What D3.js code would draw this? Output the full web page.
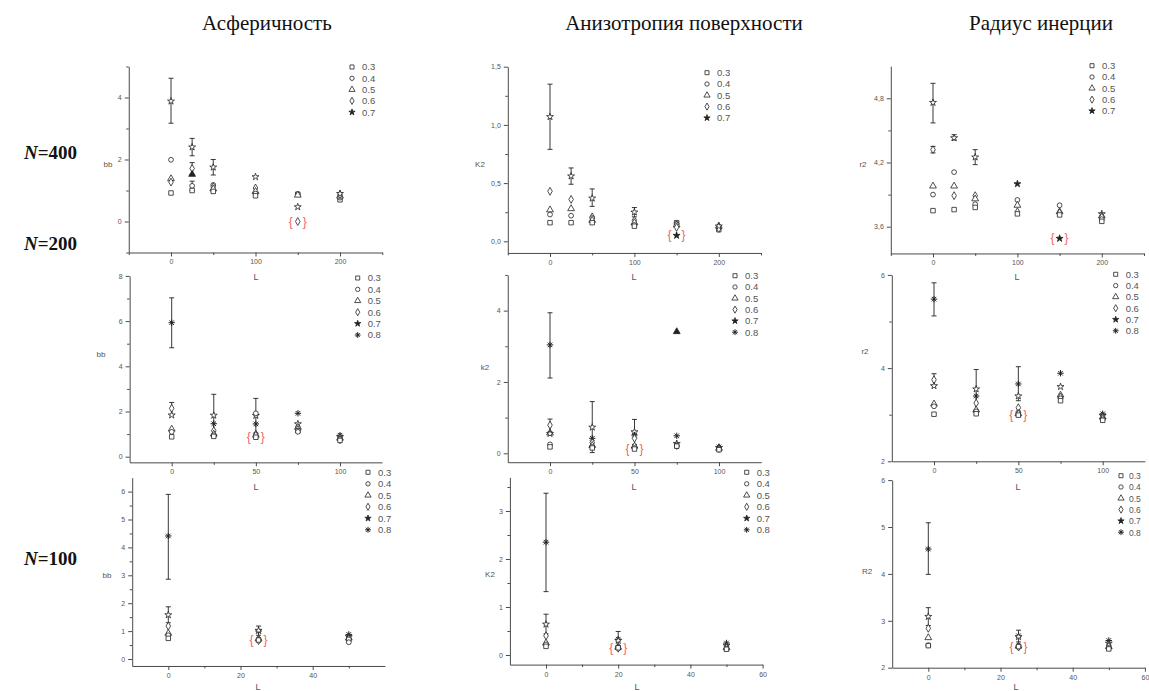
<!DOCTYPE html>
<html><head><meta charset="utf-8">
<script src="https://cdn.jsdelivr.net/npm/d3@7"></script>
<style>body{margin:0;background:#fff} svg{display:block}</style>
</head><body><svg id="c" width="1149" height="691"></svg>
<script>
// ---------------- DATA ----------------
const seriesNames = ["0.3","0.4","0.5","0.6","0.7","0.8"];
const colTitles = ["Асферичность","Анизотропия поверхности","Радиус инерции"];
const rowNs = ["400","200","100"];
const yLabels = ["bb","K2","r2","bb","k2","r2","bb","K2","R2"];
// points: [L, seriesIndex, value, errLow, errHigh, filled]
const bb400 = [
 [0,4,3.88,3.17,4.62],[0,1,1.99],[0,2,1.38],[0,3,1.27],[0,0,0.92],
 [25,4,2.4,2.12,2.68],[25,3,1.71,1.52,1.9],[25,2,1.52,null,null,1],[25,1,1.15,1.0,1.3],[25,0,1.0],
 [50,4,1.75,1.5,2.0],[50,1,1.18],[50,3,1.12],[50,2,1.05],[50,0,0.97],
 [100,4,1.44],[100,3,1.08],[100,2,0.97],[100,1,0.9],[100,0,0.83],
 [150,0,0.88],[150,1,0.88],[150,2,0.85],[150,4,0.47],[150,3,0.0],
 [200,0,0.7],[200,1,0.77],[200,2,0.82],[200,3,0.87],[200,4,0.9]
];
const k2_400 = [
 [0,4,1.07,0.79,1.35],[0,3,0.43],[0,2,0.27],[0,1,0.23],[0,0,0.16],
 [25,4,0.56,0.49,0.63],[25,3,0.36],[25,2,0.28],[25,1,0.22],[25,0,0.16],
 [50,4,0.37,0.30,0.45],[50,3,0.21],[50,1,0.2],[50,2,0.18],[50,0,0.16],
 [100,4,0.25,0.21,0.29],[100,3,0.18],[100,2,0.16],[100,1,0.14],[100,0,0.13],
 [150,0,0.16],[150,1,0.15],[150,2,0.14],[150,3,0.12],[150,4,0.05,null,null,1],
 [200,0,0.1],[200,1,0.12],[200,2,0.13],[200,3,0.11],[200,4,0.13]
];
const r2_400 = [
 [0,4,4.76,4.57,4.94],[0,3,4.32,4.29,4.35],[0,2,3.98],[0,1,3.9],[0,0,3.75],
 [25,4,4.43,4.41,4.46],[25,1,4.11],[25,2,3.98],[25,3,3.89],[25,0,3.76],
 [50,4,4.25,4.18,4.32],[50,3,3.89],[50,2,3.86],[50,1,3.81],[50,0,3.78],
 [100,4,4.0,null,null,1],[100,1,3.85],[100,2,3.8],[100,3,3.74],[100,0,3.72],
 [150,1,3.8],[150,2,3.74],[150,3,3.73],[150,0,3.71],[150,4,3.49,null,null,1],
 [200,4,3.72],[200,2,3.70],[200,3,3.69],[200,1,3.67],[200,0,3.65]
];
const bb200 = [
 [0,5,5.93,4.82,7.03],[0,3,2.14,1.85,2.4],[0,4,1.84],[0,2,1.22],[0,1,1.1],[0,0,0.88],
 [25,4,1.83,0.9,2.76],[25,5,1.46],[25,3,1.15],[25,2,1.0],[25,1,0.95],[25,0,0.9],
 [50,4,1.82,1.05,2.58],[50,1,1.92],[50,5,1.45],[50,3,1.0],[50,2,0.95],[50,0,0.86],
 [75,5,1.92],[75,4,1.45],[75,2,1.3],[75,3,1.2],[75,0,1.15],[75,1,1.1],
 [100,5,0.95],[100,4,0.88],[100,2,0.82],[100,1,0.78],[100,3,0.75],[100,0,0.72]
];
const k2_200 = [
 [0,5,3.04,2.11,3.94],[0,3,0.79,0.6,0.96],[0,2,0.57],[0,4,0.55],[0,1,0.25],[0,0,0.18],
 [25,4,0.73,0.02,1.45],[25,5,0.42],[25,3,0.3],[25,2,0.22],[25,1,0.18],[25,0,0.15],
 [50,4,0.6,0.25,0.95],[50,5,0.51],[50,3,0.42],[50,2,0.2],[50,1,0.15],[50,0,0.12],
 [75,2,3.41,null,null,1],[75,5,0.49],[75,4,0.27],[75,3,0.22],[75,1,0.2],[75,0,0.2],
 [100,5,0.18],[100,4,0.16],[100,2,0.14],[100,3,0.13],[100,1,0.12],[100,0,0.1]
];
const r2_200 = [
 [0,5,5.48,5.12,5.83],[0,3,3.75,3.62,3.88],[0,4,3.62],[0,2,3.23],[0,1,3.18],[0,0,3.01],
 [25,4,3.55,3.1,3.97],[25,5,3.4],[25,3,3.25],[25,2,3.1],[25,1,3.07],[25,0,3.02],
 [50,5,3.66,3.3,4.03],[50,4,3.4],[50,3,3.15],[50,1,3.05],[50,2,3.02],[50,0,2.99],
 [75,5,3.89],[75,4,3.6],[75,2,3.42],[75,3,3.38],[75,1,3.35],[75,0,3.3],
 [100,5,3.02],[100,4,2.98],[100,2,2.95],[100,3,2.92],[100,1,2.9],[100,0,2.88]
];
const bb100 = [
 [0,5,4.41,2.86,5.9],[0,4,1.58,1.3,1.87],[0,3,1.18],[0,2,0.92],[0,1,0.85],[0,0,0.74],
 [25,5,1.0,0.85,1.18],[25,4,1.02],[25,2,0.72],[25,1,0.7],[25,3,0.66],[25,0,0.68],
 [50,5,0.88],[50,4,0.8],[50,2,0.75],[50,3,0.72],[50,0,0.7],[50,1,0.6]
];
const k2_100 = [
 [0,5,2.35,1.32,3.37],[0,4,0.64,0.44,0.85],[0,3,0.4],[0,2,0.25],[0,1,0.22],[0,0,0.18],
 [20,5,0.33,0.18,0.49],[20,4,0.3],[20,1,0.17],[20,2,0.16],[20,3,0.14],[20,0,0.15],
 [50,5,0.25],[50,4,0.2],[50,3,0.17],[50,2,0.15],[50,1,0.13],[50,0,0.12]
];
const r2_100 = [
 [0,5,4.53,3.99,5.09],[0,4,3.09,2.9,3.28],[0,3,2.84],[0,2,2.64],[0,1,2.48],[0,0,2.47],
 [25,5,2.68,2.55,2.8,1],[25,4,2.66],[25,1,2.47],[25,2,2.46],[25,3,2.44],[25,0,2.45],
 [50,5,2.58],[50,4,2.52],[50,3,2.48],[50,2,2.45],[50,1,2.42],[50,0,2.4]
];
// red bracket annotations: [L, value]
const marks400 = [[150,0.0],[150,0.05],[150,3.49]];
const marks200 = [[50,0.86],[50,0.12],[50,2.99]];
const marks100 = [[25,0.68],[20,0.15],[25,2.45]];
// axis ticks
const xTicksRow = [[0,100,200],[0,50,100],[0,20,40,60]];
const xMinorRow = [[-50,50,150,250],[25,75],[10,30,50]];

// ---------------- LAYOUT ----------------
const panels = [
 {data:bb400, mark:marks400[0], ns:5, xo:171, xk:0.845, xd:[-50,250], yrv:0, yrp:221.5, yk:31, yd:[-1,5],
  yT:[0,2,4], yM:[-1,1,3,5], fmt:d=>d, xt:xTicksRow[0], xm:xMinorRow[0], xl:[0,100,200],
  lab:[108,167], L:[256,280], leg:[352,67,11.3]},
 {data:k2_400, mark:marks400[1], ns:5, xo:550, xk:0.844, xd:[-50,250], yrv:0, yrp:241.3, yk:116.4, yd:[-0.1,1.5],
  yT:[0,0.5,1,1.5], yM:[0.25,0.75,1.25], fmt:d=>d3.format(".1f")(d).replace(".",","), xt:xTicksRow[0], xm:xMinorRow[0], xl:[0,100,200],
  lab:[480,167], L:[634,280], leg:[707,72.7,11.3]},
 {data:r2_400, mark:marks400[2], ns:5, xo:933, xk:0.844, xd:[-50,250], yrv:3.6, yrp:226.7, yk:107, yd:[3.35,5.1],
  yT:[3.6,4.2,4.8], yM:[3.9,4.5], fmt:d=>d3.format(".1f")(d).replace(".",","), xt:xTicksRow[0], xm:xMinorRow[0], xl:[0,100,200],
  lab:[863,167], L:[1017,280], leg:[1092,65.7,11.3]},
 {data:bb200, mark:marks200[0], ns:6, xo:171.7, xk:1.683, xd:[-25,125], yrv:0, yrp:456.7, yk:22.6, yd:[-0.25,8],
  yT:[0,2,4,6,8], yM:[1,3,5,7], fmt:d=>d, xt:xTicksRow[1], xm:xMinorRow[1], xl:[0,50,100],
  lab:[101,357], L:[256,490], leg:[357.7,278,11.4]},
 {data:k2_200, mark:marks200[1], ns:6, xo:550, xk:1.69, xd:[-25,125], yrv:0, yrp:453.3, yk:35.67, yd:[-0.25,5],
  yT:[0,2,4], yM:[1,3,5], fmt:d=>d, xt:xTicksRow[1], xm:xMinorRow[1], xl:[0,50,100],
  lab:[485,370], L:[634,490], leg:[735,275.7,11.3]},
 {data:r2_200, mark:marks200[2], ns:6, xo:934, xk:1.687, xd:[-25,125], yrv:2, yrp:461.3, yk:46.6, yd:[2,6],
  yT:[2,4,6], yM:[3,5], fmt:d=>d, xt:xTicksRow[1], xm:xMinorRow[1], xl:[0,50,100],
  lab:[865,354], L:[1018,490], leg:[1115.7,274.3,11.3]},
 {data:bb100, mark:marks100[0], ns:6, xo:168.3, xk:3.61, xd:[-10,60], yrv:0, yrp:659, yk:27.9, yd:[-0.25,6.5],
  yT:[0,1,2,3,4,5,6], yM:[0.5,1.5,2.5,3.5,4.5,5.5], fmt:d=>d, xt:[0,20,40], xm:xMinorRow[2], xl:[0,20,40],
  lab:[107,578], L:[258,689.5], leg:[368,472.3,11.5]},
 {data:k2_100, mark:marks100[1], ns:6, xo:546, xk:3.61, xd:[-10,60], yrv:0, yrp:655, yk:48, yd:[-0.2,3.7],
  yT:[0,1,2,3], yM:[0.5,1.5,2.5,3.5], fmt:d=>d, xt:xTicksRow[2], xm:xMinorRow[2], xl:[0,20,40,60],
  lab:[490,577], L:[637,689.5], leg:[746.7,472.3,11.5]},
 {data:r2_100, mark:marks100[2], ns:6, xo:928.3, xk:3.61, xd:[-10,60], yrv:2, yrp:667.7, yk:46.9, yd:[2,6],
  yT:[2,3,4,5,6], yM:[], fmt:d=>d, xt:xTicksRow[2], xm:xMinorRow[2], xl:[0,20,40,60],
  lab:[867,574], L:[1016,689.5], leg:[1121,475.7,11.3], legFs:8.5, legGap:8}
];

const svg = d3.select("#c");
const AX = "#4a4a4a", TXT = "#555";

function symPath(s, sz) {
  if (s === 5) {
    const r = sz, a = r*0.707;
    return `M${-r},0L${r},0M0,${-r}L0,${r}M${-a},${-a}L${a},${a}M${-a},${a}L${a},${-a}`;
  }
  const types = [d3.symbolSquare, d3.symbolCircle, d3.symbolTriangle, d3.symbolDiamond, d3.symbolStar];
  const areas = [20, 18, 20, 18, 15];
  return d3.symbol().type(types[s]).size(areas[s]*(sz/3.2)*(sz/3.2))();
}
function drawSym(g, s, x, y, filled, sz) {
  g.append("path").attr("d", symPath(s, sz||3.2))
    .attr("transform", `translate(${x},${y})`)
    .attr("fill", s === 5 ? "none" : (filled ? "#222" : "#fff"))
    .attr("stroke", "#222").attr("stroke-width", s === 5 ? 1 : 0.8);
}

panels.forEach((p, i) => {
  const g = svg.append("g");
  const x = d3.scaleLinear().domain(p.xd).range([p.xo + p.xd[0]*p.xk, p.xo + p.xd[1]*p.xk]);
  const y = d3.scaleLinear().domain(p.yd).range([p.yrp - (p.yd[0]-p.yrv)*p.yk, p.yrp - (p.yd[1]-p.yrv)*p.yk]);
  const yb = y.range()[0], xl = x.range()[0];

  g.append("g").attr("transform", `translate(0,${yb})`)
    .call(d3.axisBottom(x).tickValues(p.xm).tickSize(2.5).tickSizeOuter(0).tickFormat(""))
    .call(a => a.select(".domain").remove());
  g.append("g").attr("transform", `translate(${xl},0)`)
    .call(d3.axisLeft(y).tickValues(p.yM).tickSize(2.5).tickSizeOuter(0).tickFormat(""))
    .call(a => a.select(".domain").remove());
  g.append("g").attr("transform", `translate(0,${yb})`)
    .call(d3.axisBottom(x).tickValues(p.xt).tickSize(4).tickSizeOuter(0).tickPadding(3)
      .tickFormat(d => p.xl.includes(d) ? d : ""));
  g.append("g").attr("transform", `translate(${xl},0)`)
    .call(d3.axisLeft(y).tickValues(p.yT).tickSize(4).tickSizeOuter(0).tickPadding(3).tickFormat(p.fmt));
  g.selectAll(".domain, .tick line").attr("stroke", AX).attr("stroke-width", 1);
  g.selectAll(".tick text").attr("font-family", "Liberation Sans, Arial, sans-serif")
    .attr("font-size", 7).attr("fill", TXT);

  g.append("text").attr("x", p.lab[0]).attr("y", p.lab[1]).attr("text-anchor", "middle")
    .attr("font-family", "Liberation Sans, Arial, sans-serif").attr("font-size", 8).attr("fill", TXT)
    .text(yLabels[i]);
  g.append("text").attr("x", p.L[0]).attr("y", p.L[1]).attr("text-anchor", "middle")
    .attr("font-family", "Liberation Sans, Arial, sans-serif").attr("font-size", 9).attr("fill", TXT)
    .text("L");

  p.data.filter(d => d[3] != null).forEach(d => {
    const cx = x(d[0]), lo = y(d[3]), hi = y(d[4]);
    g.append("line").attr("x1", cx).attr("x2", cx).attr("y1", lo).attr("y2", hi).attr("stroke", "#222").attr("stroke-width", 0.9);
    [lo, hi].forEach(yy => g.append("line").attr("x1", cx-2.5).attr("x2", cx+2.5).attr("y1", yy).attr("y2", yy)
      .attr("stroke", "#222").attr("stroke-width", 0.9));
  });
  p.data.forEach(d => drawSym(g, d[1], x(d[0]), y(d[2]), d[5]));

  const mx = x(p.mark[0]), my = y(p.mark[1]);
  [["{", mx-7], ["}", mx+7]].forEach(([t, xx]) => g.append("text").attr("x", xx).attr("y", my+4)
    .attr("text-anchor", "middle").attr("font-family", "Liberation Sans, Arial, sans-serif")
    .attr("font-size", 12).attr("fill", "#f26262").text(t));

  for (let s = 0; s < p.ns; s++) {
    const ly = p.leg[1] + s*p.leg[2];
    drawSym(g, s, p.leg[0], ly, s === 4, 2.9);
    g.append("text").attr("x", p.leg[0] + (p.legGap || 10)).attr("y", ly + 3.3)
      .attr("font-family", "Liberation Sans, Arial, sans-serif").attr("font-size", p.legFs || 9.5).attr("fill", TXT)
      .text(seriesNames[s]);
  }
});

const titleX = [267, 684, 1041];
colTitles.forEach((t, i) => svg.append("text").attr("x", titleX[i]).attr("y", 30).attr("text-anchor", "middle")
  .attr("font-family", "Liberation Serif, Times New Roman, serif").attr("font-size", 21).attr("fill", "#111").text(t));
const rowY = [159, 250, 565];
rowNs.forEach((n, i) => {
  const t = svg.append("text").attr("x", 77).attr("y", rowY[i]).attr("text-anchor", "end")
    .attr("font-family", "Liberation Serif, Times New Roman, serif").attr("font-size", 19)
    .attr("font-weight", "bold").attr("fill", "#111");
  t.append("tspan").attr("font-style", "italic").text("N");
  t.append("tspan").text("=" + n);
});
</script></body></html>
